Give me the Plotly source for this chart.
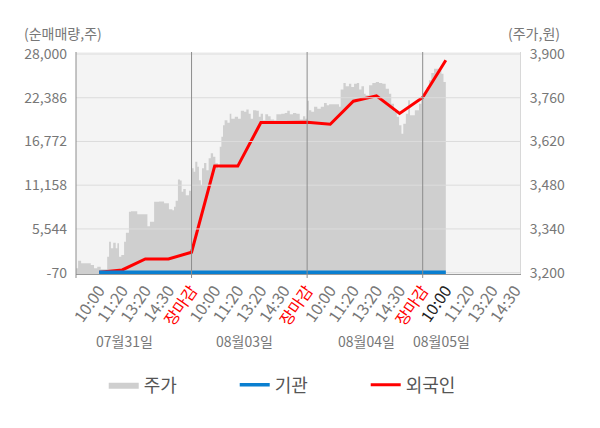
import plotly.graph_objects as go

# 일자 / 시간 슬롯
days = ["07월31일", "08월03일", "08월04일", "08월05일"]
day_label_pos = [2.1, 7.3, 12.55, 15.8]
slot_labels = ["10:00", "11:20", "13:20", "14:30", "장마감"]
slots_per_day = 5
last_day_slots = 4
current_slot = 16

# 주가 (원) - 위치는 슬롯 단위
price_pos = [0.0, 0.09, 0.22, 0.64, 0.78, 0.92, 1.07, 1.35, 1.43, 1.51, 1.61, 1.72,
             1.79, 1.86, 1.96, 2.08, 2.16, 2.29, 2.38, 2.65, 3.09, 3.20, 3.38, 3.59,
             3.81, 4.02, 4.17, 4.24, 4.31, 4.41, 4.50, 4.57, 4.64, 4.75, 4.89,
             5.0, 5.09, 5.16, 5.25, 5.32, 5.40, 5.45, 5.54, 5.64, 5.74, 5.83, 5.93,
             6.03, 6.14, 6.22, 6.29, 6.36, 6.43, 6.55, 6.65, 6.72, 6.87, 7.01, 7.13,
             7.27, 7.37, 7.47, 7.56, 7.66, 7.80, 7.91, 7.99, 8.09, 8.19, 8.31, 8.42,
             8.57, 8.67, 8.88, 9.03, 9.14, 9.25, 9.39, 9.53, 9.68, 9.82, 9.92,
             10.0, 10.08, 10.18, 10.30, 10.44, 10.59, 10.73, 10.85, 10.95, 11.09,
             11.24, 11.38, 11.45, 11.57, 11.67, 11.81, 11.91, 12.03, 12.15, 12.25,
             12.35, 12.46, 12.53, 12.68, 12.82, 12.97, 13.11, 13.25, 13.40, 13.54,
             13.64, 13.76, 13.88, 13.98, 14.08, 14.16, 14.27, 14.37, 14.45, 14.55,
             14.66, 14.77, 14.84, 14.94,
             15.0, 15.18, 15.27, 15.37, 15.49, 15.61, 15.71, 15.81, 15.90, 16.0]
price = [3214, 3238, 3230, 3225, 3214, 3219, 3211, 3251, 3299, 3278, 3296, 3278,
         3294, 3251, 3257, 3299, 3328, 3395, 3397, 3387, 3349, 3363, 3427, 3428,
         3422, 3403, 3400, 3411, 3430, 3498, 3495, 3459, 3468, 3448, 3462,
         3534, 3523, 3555, 3539, 3496, 3480, 3534, 3551, 3528, 3566, 3582, 3571,
         3550, 3534, 3603, 3635, 3672, 3688, 3680, 3709, 3693, 3699, 3693, 3718,
         3715, 3722, 3709, 3693, 3720, 3718, 3699, 3709, 3688, 3707, 3701, 3690,
         3688, 3707, 3709, 3711, 3718, 3707, 3711, 3709, 3690, 3701, 3693,
         3750, 3720, 3715, 3731, 3725, 3731, 3743, 3736, 3739, 3739,
         3739, 3731, 3786, 3807, 3797, 3805, 3794, 3805, 3807, 3786,
         3797, 3773, 3768, 3800, 3807, 3810, 3807, 3805, 3789, 3773,
         3741, 3715, 3699, 3672, 3645, 3677, 3709, 3752, 3704, 3704,
         3720, 3720, 3741, 3752,
         3775, 3794, 3816, 3839, 3853, 3853, 3848, 3837, 3810, 3810]

# 순매매량 (주)
flow_pos = [1, 2, 3, 4, 5, 6, 7, 8, 9, 10, 11, 12, 13, 14, 15, 16]
foreign = [0, 280, 1690, 1690, 2550, 13610, 13610, 19210, 19210, 19240,
           18990, 21940, 22620, 20370, 22420, 27200]
institution = [0, 0, 0, 0, 0, 0, 0, 0, 0, 0, 0, 0, 0, 0, 0, 0]

left_ticks = [-70, 5544, 11158, 16772, 22386, 28000]
right_ticks = [3200, 3340, 3480, 3620, 3760, 3900]

# x축 눈금
tickvals, ticktext = [], []
for d in range(len(days)):
    n = last_day_slots if d == len(days) - 1 else slots_per_day
    for k in range(n):
        pos = d * slots_per_day + k + 1
        lab = slot_labels[k]
        if lab == "장마감":
            lab = '<span style="color:#ff0000">장마감</span>'
        elif pos == current_slot:
            lab = '<span style="color:#222222">' + lab + '</span>'
        tickvals.append(pos)
        ticktext.append(lab)

fig = go.Figure()
# 주가는 기본 y축(오른쪽), 순매매량은 겹친 y2축(왼쪽)
fig.add_trace(go.Scatter(
    x=price_pos, y=price, name="주가", yaxis="y",
    mode="lines", line=dict(width=0, shape="hv", color="#cfcfcf"),
    fill="tozeroy", fillcolor="#cfcfcf", legendrank=1,
))
fig.add_trace(go.Scatter(
    x=flow_pos, y=foreign, name="외국인", yaxis="y2", mode="lines",
    line=dict(color="#ff0000", width=3), legendrank=3,
))
fig.add_trace(go.Scatter(
    x=flow_pos, y=institution, name="기관", yaxis="y2", mode="lines",
    line=dict(color="#0a7fd0", width=3.5), legendrank=2,
))

shapes = []
for v in left_ticks:
    # 맨 아래 격자선은 기관 선을 가리지 않도록 아래 레이어에
    lay = "below" if v == left_ticks[0] else "above"
    shapes.append(dict(type="line", xref="paper", yref="y2", x0=0, x1=1, y0=v, y1=v,
                       line=dict(color="#dcdcdc", width=1), layer=lay))
for d in range(1, len(days)):
    b = d * slots_per_day
    shapes.append(dict(type="line", xref="x", yref="paper", x0=b, x1=b, y0=-0.018, y1=1,
                       line=dict(color="#8c8c8c", width=1), layer="above"))
shapes.append(dict(type="line", xref="paper", yref="paper", x0=0, x1=0, y0=-0.018, y1=1,
                   line=dict(color="#8c8c8c", width=1), layer="above"))

annotations = []
for lab, p in zip(days, day_label_pos):
    annotations.append(dict(x=p, y=-0.356, xref="x", yref="paper", text=lab,
                            showarrow=False, font=dict(size=14, color="#777777")))
annotations.append(dict(x=-0.1216, y=1.086, xref="paper", yref="paper", text="(순매매량,주)",
                        xanchor="left", yanchor="middle", showarrow=False,
                        font=dict(size=14, color="#777777")))
annotations.append(dict(x=1.0946, y=1.086, xref="paper", yref="paper", text="(주가,원)",
                        xanchor="right", yanchor="middle", showarrow=False,
                        font=dict(size=14, color="#777777")))

# 페이지 body 여백(8px)을 감안한 크기
fig.update_layout(
    width=592, height=420,
    margin=dict(l=68, r=80, t=44, b=154),
    paper_bgcolor="white", plot_bgcolor="#f4f4f4",
    font=dict(family="Noto Sans CJK KR", size=14, color="#777777"),
    legend=dict(orientation="h", x=0.505, xanchor="center", y=-0.5, yanchor="middle",
                font=dict(size=18, color="#555555"), traceorder="normal", entrywidth=86),
    xaxis=dict(range=[0, 19.21], tickvals=tickvals, ticktext=ticktext, tickangle=-55,
               tickfont=dict(size=16, color="#777777"), showgrid=False, zeroline=False,
               showline=True, linecolor="#999999", ticks=""),
    yaxis=dict(side="right", range=[3195.8, 3906.4], tickvals=right_ticks,
               ticktext=[f"{v:,}" for v in right_ticks], showgrid=False, zeroline=False,
               showline=True, linecolor="#d8d8d8", ticks="", ticklabelstandoff=6),
    yaxis2=dict(overlaying="y", side="left", range=[-240, 28256], tickvals=left_ticks,
                ticktext=[f"{v:,}" for v in left_ticks], showgrid=False, zeroline=False,
                showline=False, ticks="", ticklabelstandoff=8),
    shapes=shapes, annotations=annotations,
)

fig.write_html("out.html")
